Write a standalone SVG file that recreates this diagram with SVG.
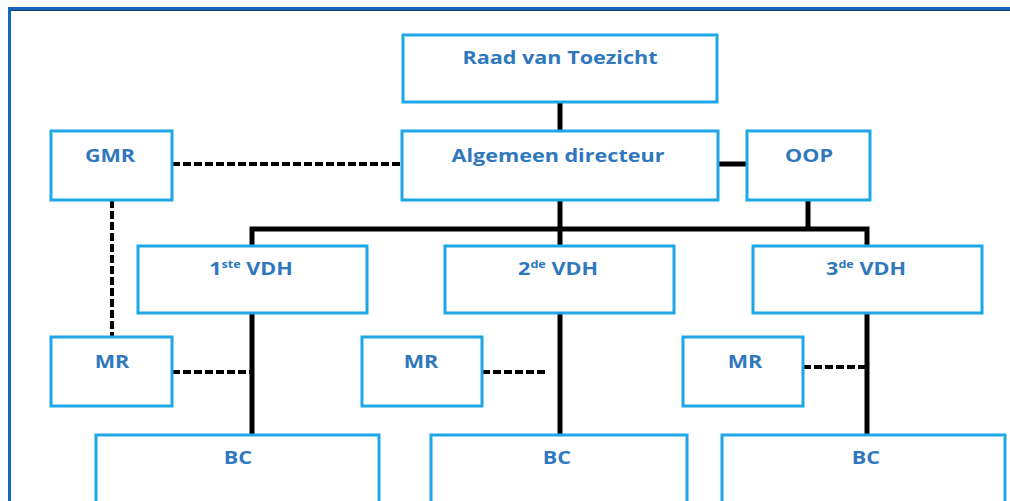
<svg xmlns="http://www.w3.org/2000/svg" width="1010" height="501" viewBox="0 0 1010 501">
<style>
.box{fill:#ffffff;stroke:#1ea6e6;stroke-width:3}
.lbl{font-family:"Open Sans","Liberation Sans",sans-serif;font-weight:bold;font-size:18px;fill:#2f78bd;text-anchor:middle}
.sup{font-size:10.5px}
.solid{stroke:#000;stroke-width:5;fill:none}
.dash{stroke:#000;stroke-width:4;fill:none;stroke-dasharray:8 3}
</style>
<rect width="1010" height="501" fill="#ffffff"/>
<path d="M9.5 501 V8.5 H1010" fill="none" stroke="#1565b8" stroke-width="3"/>
<path d="M11 10.5 H1010" fill="none" stroke="#1b3a6a" stroke-width="1"/>
<g id="connectors">
<line class="solid" x1="560" y1="102" x2="560" y2="131"/>
<line class="solid" x1="718" y1="164" x2="747" y2="164"/>
<line class="solid" x1="560" y1="200" x2="560" y2="246"/>
<line class="solid" x1="808" y1="200" x2="808" y2="229"/>
<polyline class="solid" points="252,246 252,229 867,229 867,246"/>
<line class="solid" x1="252" y1="313" x2="252" y2="435"/>
<line class="solid" x1="560" y1="313" x2="560" y2="435"/>
<line class="solid" x1="867" y1="313" x2="867" y2="435"/>
<line class="dash" x1="172" y1="164" x2="402" y2="164"/>
<line class="dash" x1="112" y1="200" x2="112" y2="337"/>
<line class="dash" x1="172" y1="372" x2="252" y2="372"/>
<line class="dash" x1="482" y1="372" x2="548" y2="372"/>
<line class="dash" x1="803" y1="367" x2="866" y2="367"/>
</g>
<g id="raad"><rect class="box" x="403" y="35" width="314" height="67"/><text class="lbl" transform="translate(560 64) scale(1.2 1)">Raad van Toezicht</text></g>
<g id="gmr"><rect class="box" x="51" y="131" width="121" height="69"/><text class="lbl" transform="translate(110 162) scale(1.2 1)">GMR</text></g>
<g id="algemeen"><rect class="box" x="402" y="131" width="316" height="69"/><text class="lbl" transform="translate(558 162) scale(1.2 1)">Algemeen directeur</text></g>
<g id="oop"><rect class="box" x="747" y="131" width="123" height="69"/><text class="lbl" transform="translate(809 162) scale(1.2 1)">OOP</text></g>
<g id="vdh1"><rect class="box" x="138" y="246" width="229" height="67"/><text class="lbl" transform="translate(251 275) scale(1.2 1)">1<tspan class="sup" dy="-7">ste</tspan><tspan dy="7"> VDH</tspan></text></g>
<g id="vdh2"><rect class="box" x="445" y="246" width="229" height="67"/><text class="lbl" transform="translate(558 275) scale(1.2 1)">2<tspan class="sup" dy="-7">de</tspan><tspan dy="7"> VDH</tspan></text></g>
<g id="vdh3"><rect class="box" x="753" y="246" width="229" height="67"/><text class="lbl" transform="translate(866 275) scale(1.2 1)">3<tspan class="sup" dy="-7">de</tspan><tspan dy="7"> VDH</tspan></text></g>
<g id="mr1"><rect class="box" x="51" y="337" width="121" height="69"/><text class="lbl" transform="translate(112 368) scale(1.2 1)">MR</text></g>
<g id="mr2"><rect class="box" x="362" y="337" width="120" height="69"/><text class="lbl" transform="translate(421 368) scale(1.2 1)">MR</text></g>
<g id="mr3"><rect class="box" x="683" y="337" width="120" height="69"/><text class="lbl" transform="translate(745 368) scale(1.2 1)">MR</text></g>
<g id="bc1"><rect class="box" x="96" y="435" width="283" height="80"/><text class="lbl" transform="translate(238 464) scale(1.2 1)">BC</text></g>
<g id="bc2"><rect class="box" x="431" y="435" width="256" height="80"/><text class="lbl" transform="translate(557 464) scale(1.2 1)">BC</text></g>
<g id="bc3"><rect class="box" x="722" y="435" width="283" height="80"/><text class="lbl" transform="translate(866 464) scale(1.2 1)">BC</text></g>
</svg>
